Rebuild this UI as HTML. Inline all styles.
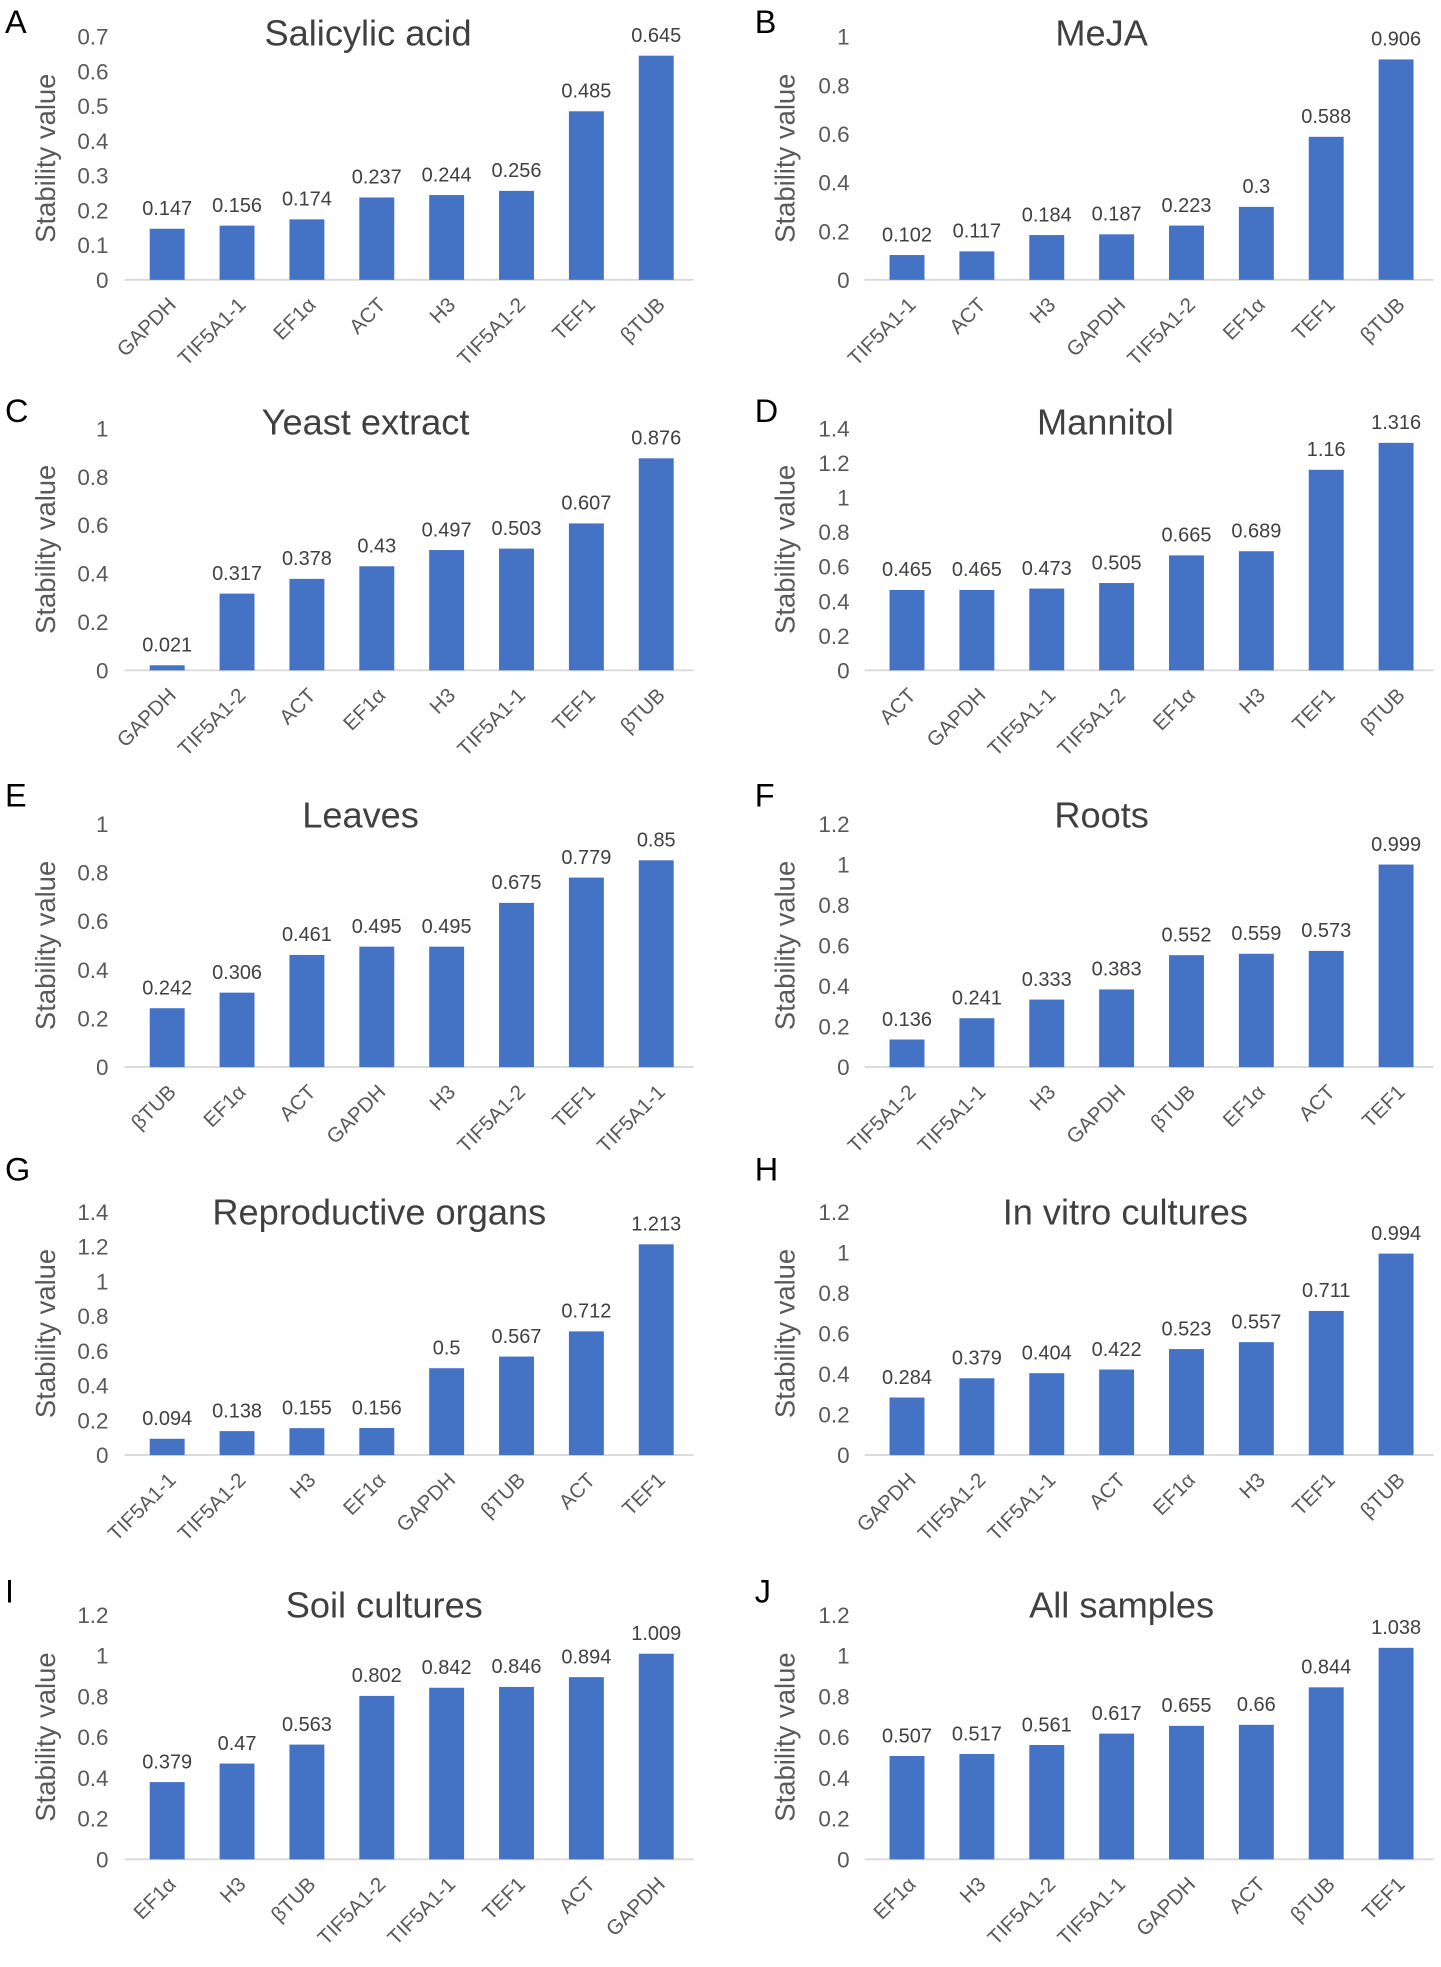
<!DOCTYPE html>
<html><head><meta charset="utf-8"><style>
html,body{margin:0;padding:0;background:#fff;}
svg{display:block;font-family:"Liberation Sans",sans-serif;}
</style></head><body>
<svg id="fig" width="1441" height="1967" viewBox="0 0 1155 1576" xmlns="http://www.w3.org/2000/svg"></svg>
<script>
const catsA=["GAPDH","TIF5A1-1","EF1α","ACT","H3","TIF5A1-2","TEF1","βTUB"];
const valsA=[0.147,0.156,0.174,0.237,0.244,0.256,0.485,0.645];
const catsB=["TIF5A1-1","ACT","H3","GAPDH","TIF5A1-2","EF1α","TEF1","βTUB"];
const valsB=[0.102,0.117,0.184,0.187,0.223,0.3,0.588,0.906];
const catsC=["GAPDH","TIF5A1-2","ACT","EF1α","H3","TIF5A1-1","TEF1","βTUB"];
const valsC=[0.021,0.317,0.378,0.43,0.497,0.503,0.607,0.876];
const catsD=["ACT","GAPDH","TIF5A1-1","TIF5A1-2","EF1α","H3","TEF1","βTUB"];
const valsD=[0.465,0.465,0.473,0.505,0.665,0.689,1.16,1.316];
const catsE=["βTUB","EF1α","ACT","GAPDH","H3","TIF5A1-2","TEF1","TIF5A1-1"];
const valsE=[0.242,0.306,0.461,0.495,0.495,0.675,0.779,0.85];
const catsF=["TIF5A1-2","TIF5A1-1","H3","GAPDH","βTUB","EF1α","ACT","TEF1"];
const valsF=[0.136,0.241,0.333,0.383,0.552,0.559,0.573,0.999];
const catsG=["TIF5A1-1","TIF5A1-2","H3","EF1α","GAPDH","βTUB","ACT","TEF1"];
const valsG=[0.094,0.138,0.155,0.156,0.5,0.567,0.712,1.213];
const catsH=["GAPDH","TIF5A1-2","TIF5A1-1","ACT","EF1α","H3","TEF1","βTUB"];
const valsH=[0.284,0.379,0.404,0.422,0.523,0.557,0.711,0.994];
const catsI=["EF1α","H3","βTUB","TIF5A1-2","TIF5A1-1","TEF1","ACT","GAPDH"];
const valsI=[0.379,0.47,0.563,0.802,0.842,0.846,0.894,1.009];
const catsJ=["EF1α","H3","TIF5A1-2","TIF5A1-1","GAPDH","ACT","βTUB","TEF1"];
const valsJ=[0.507,0.517,0.561,0.617,0.655,0.66,0.844,1.038];
const titles=["Salicylic acid","MeJA","Yeast extract","Mannitol","Leaves","Roots","Reproductive organs","In vitro cultures","Soil cultures","All samples"];
const letters=["A","B","C","D","E","F","G","H","I","J"];
const axisMax=[0.7,1,1,1.4,1,1.2,1.4,1.2,1.2,1.2];
const axisStep=[0.1,0.2,0.2,0.2,0.2,0.2,0.2,0.2,0.2,0.2];
const allCats=[catsA,catsB,catsC,catsD,catsE,catsF,catsG,catsH,catsI,catsJ];
const allVals=[valsA,valsB,valsC,valsD,valsE,valsF,valsG,valsH,valsI,valsJ];

const NS="http://www.w3.org/2000/svg";
const svg=document.getElementById('fig');
function mk(tag,attrs,parent){const e=document.createElementNS(NS,tag);for(const k in attrs)e.setAttribute(k,attrs[k]);(parent||svg).appendChild(e);return e;}
const rowBase=[224,537,855,1166,1490];
const rowTop=[29,343,660,971,1294];
const titleY=[36,348,663,981,1296];
const titleX=[295,883,293,886,289,883,304,902,308,899];
const letterY=[[26,26],[338,338],[646,646],[946,946],[1284,1284]];

for(let p=0;p<10;p++){
  const col=p%2,row=Math.floor(p/2);
  const cats=allCats[p],vals=allVals[p];
  const g=mk('g',{});
  
  
  const x0=col?699:106, band=56, y0=rowBase[row], yT=rowTop[row], max=axisMax[p];
  const ys=v=>y0-(v/max)*(y0-yT);
  const xs=i=>x0+band*(i+0.5);
  const L=mk('text',{x:col?605:4,y:letterY[row][col],'font-size':26,fill:'#000'},g);L.textContent=letters[p];
  
  const T=mk('text',{x:titleX[p],y:titleY[row],'font-size':29,fill:'#404040','text-anchor':'middle'},g);T.textContent=titles[p];
  
  const yt=mk('text',{transform:`translate(${col?637:44},${(y0+yT)/2}) rotate(-90)`,'font-size':22,fill:'#595959','text-anchor':'middle'},g);yt.textContent='Stability value';
  
  const n=Math.round(max/axisStep[p]);
  for(let k=0;k<=n;k++){const v=k*axisStep[p];
    const t=mk('text',{x:col?681:87,y:ys(v)+6.5,'font-size':18,fill:'#595959','text-anchor':'end'},g);
    t.textContent=String(Number(v.toFixed(1)));
    }
  const ax=mk('line',{x1:x0-6,x2:x0+band*8+2,y1:y0,y2:y0,stroke:'#d9d9d9','stroke-width':1.5},g);
  
  cats.forEach((c,i)=>{
    const v=vals[i],cx=xs(i),w=28;
    const b=mk('rect',{x:cx-w/2,y:ys(v),width:w,height:y0-ys(v),fill:'#4472C4'},g);
    
    
    const vl=mk('text',{x:cx,y:ys(v)-11,'font-size':16,fill:'#404040','text-anchor':'middle'},g);
    vl.textContent=String(v);
    
    
    const cl=mk('text',{transform:`translate(${cx+8},${y0+21}) rotate(-45)`,'font-size':16.5,fill:'#595959','text-anchor':'end'},g);
    cl.textContent=c;
    
    
  });
}
</script>
</body></html>
